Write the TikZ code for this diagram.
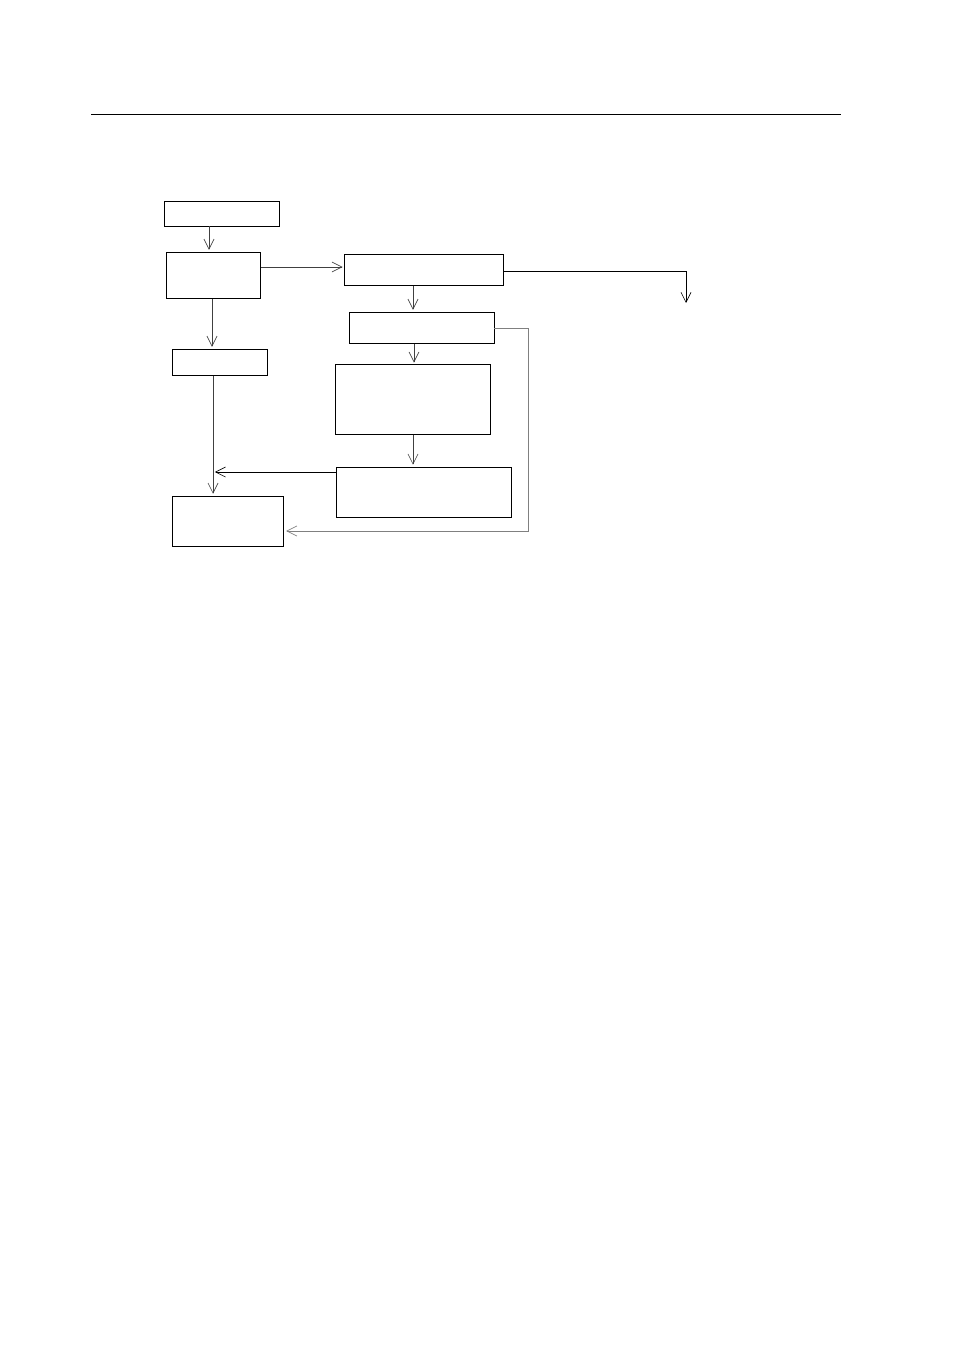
\documentclass[tikz,border=0pt]{standalone}
\usepackage{amsmath}
\usepackage{tikz}
\usetikzlibrary{arrows.meta}

\begin{document}
\begin{tikzpicture}[x=0.22mm,y=-0.22mm,font=\footnotesize,
  blk/.style={draw,line width=0.6pt,minimum height=#1},
  arr/.style={-{Straight Barb[length=2.2mm,width=2.2mm]},line width=0.4pt,draw=black!75,shorten >=0.4mm},
  fback/.style={arr,draw=black!50}]
%\draw[help lines] (0,0) grid (954,1351);
\useasboundingbox (0,0) rectangle (954,1351);
\coordinate (hl) at (91,114);
\coordinate (hr) at (841,114);
\draw [line width=0.6pt] (hl) -- (hr);

\node (start) [blk=5.5mm,minimum width=25.5mm] at (222,213.5) {};
\node (split) [blk=10.3mm,minimum width=20.5mm] at (213.5,275.5) {};
\node (main) [blk=7mm,minimum width=34.8mm] at (424,270) {};
\node (check) [blk=7mm,minimum width=31.9mm] at (421.5,328) {};
\node (side) [blk=5.9mm,minimum width=20.7mm] at (220,362.5) {};
\node (proc) [blk=15.2mm,minimum width=34.1mm] at (412.5,399.5) {};
\node (merge) [blk=11mm,minimum width=38.7mm] at (424,492) {};
\node (final) [blk=11.2mm,minimum width=24.6mm] at (228,521.5) {};
\coordinate (out) at (686,303);
\coordinate (join) at (213,472);
\coordinate (fb) at (528,531);

\draw [arr] (start.south -| 209,0) -- (split.north -| 209,0);
\draw [arr] (split.east |- 0,267) -- (main.west |- 0,267);
\draw [arr] (split.south -| 212,0) -- (side.north -| 212,0);
\draw [arr] (main.south -| 413,0) -- (check.north -| 413,0);
\draw [arr,draw=black,shorten >=0pt] (main.east |- 0,271) -| (out);
\draw [arr] (check.south -| 414,0) -- (proc.north -| 414,0);
\draw [fback] (check.east) -| (fb) -- (final.east |- fb);
\draw [arr] (proc.south -| 413,0) -- (merge.north -| 413,0);
\draw [arr] (side.south -| 213,0) -- (final.north -| 213,0);
\draw [arr,draw=black] (merge.west |- join) -- (join);
\end{tikzpicture}
\end{document}
